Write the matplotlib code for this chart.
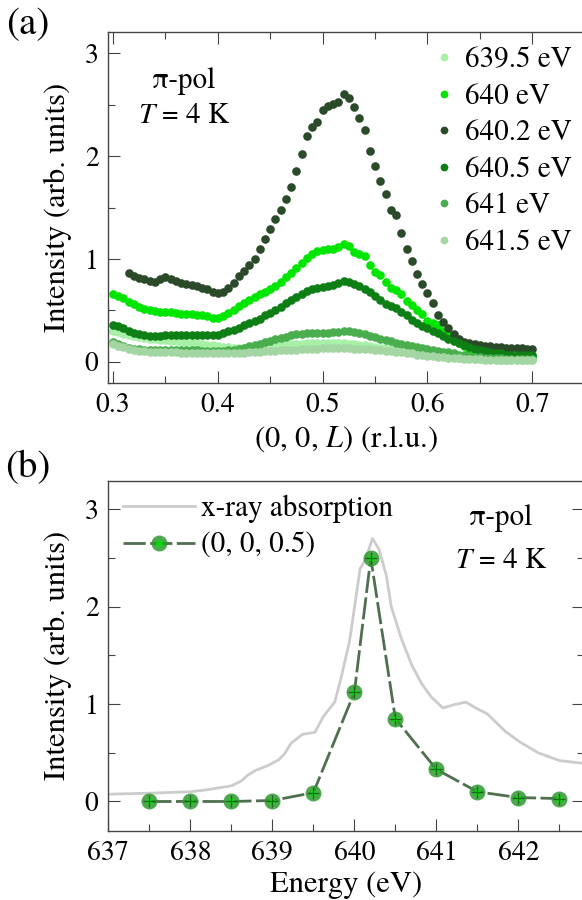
import matplotlib
matplotlib.use("Agg")
import matplotlib.pyplot as plt
from matplotlib.ticker import MultipleLocator

plt.rcParams.update({
    "font.family": ["TeX Gyre Termes", "STIXGeneral", "DejaVu Serif"],
    "mathtext.fontset": "stix",
    "axes.linewidth": 1.0,
    "axes.edgecolor": "#444444",
})

# ---- data, panel (a): L scans at several photon energies
L = [0.300, 0.305, 0.310, 0.315, 0.320, 0.325, 0.330, 0.335, 0.340, 0.345,
     0.350, 0.355, 0.360, 0.365, 0.370, 0.375, 0.380, 0.385, 0.390, 0.395,
     0.400, 0.405, 0.410, 0.415, 0.420, 0.425, 0.430, 0.435, 0.440, 0.445,
     0.450, 0.455, 0.460, 0.465, 0.470, 0.475, 0.480, 0.485, 0.490, 0.495,
     0.500, 0.505, 0.510, 0.515, 0.520, 0.525, 0.530, 0.535, 0.540, 0.545,
     0.550, 0.555, 0.560, 0.565, 0.570, 0.575, 0.580, 0.585, 0.590, 0.595,
     0.600, 0.605, 0.610, 0.615, 0.620, 0.625, 0.630, 0.635, 0.640, 0.645,
     0.650, 0.655, 0.660, 0.665, 0.670, 0.675, 0.680, 0.685, 0.690, 0.695,
     0.700]

I_6395 = [0.30, 0.29, 0.27, 0.26, 0.25, 0.24, 0.23, 0.22, 0.22, 0.21,
          0.21, 0.20, 0.20, 0.19, 0.19, 0.18, 0.18, 0.17, 0.16, 0.16,
          0.15, 0.14, 0.14, 0.13, 0.13, 0.13, 0.13, 0.13, 0.14, 0.14,
          0.15, 0.15, 0.16, 0.16, 0.17, 0.17, 0.17, 0.18, 0.18, 0.18,
          0.18, 0.18, 0.18, 0.18, 0.18, 0.17, 0.17, 0.16, 0.16, 0.15,
          0.14, 0.13, 0.13, 0.12, 0.11, 0.10, 0.10, 0.09, 0.08, 0.08,
          0.07, 0.07, 0.06, 0.06, 0.05, 0.05, 0.04, 0.04, 0.04, 0.03,
          0.03, 0.03, 0.03, 0.03, 0.02, 0.02, 0.02, 0.02, 0.02, 0.02,
          0.02]
I_640 = [0.66, 0.64, 0.62, 0.58, 0.56, 0.53, 0.51, 0.50, 0.49, 0.48,
         0.48, 0.48, 0.47, 0.46, 0.46, 0.46, 0.45, 0.45, 0.44, 0.43,
         0.43, 0.44, 0.47, 0.50, 0.54, 0.57, 0.60, 0.63, 0.66, 0.68,
         0.71, 0.74, 0.78, 0.82, 0.86, 0.91, 0.96, 1.01, 1.05, 1.08,
         1.09, 1.10, 1.10, 1.12, 1.15, 1.13, 1.07, 1.05, 1.03, 0.94,
         0.87, 0.84, 0.78, 0.72, 0.70, 0.66, 0.59, 0.55, 0.50, 0.46,
         0.40, 0.38, 0.36, 0.30, 0.26, 0.22, 0.18, 0.15, 0.12, 0.10,
         0.09, 0.08, 0.08, 0.07, 0.07, 0.07, 0.06, 0.06, 0.06, 0.06,
         0.06]
# 640.2 eV scan starts at L = 0.315
I_6402 = [0.865, 0.83, 0.81, 0.80, 0.79, 0.78, 0.80,
          0.82, 0.80, 0.79, 0.77, 0.76, 0.75, 0.74, 0.72, 0.71, 0.68,
          0.67, 0.68, 0.72, 0.77, 0.83, 0.88, 0.94, 1.00, 1.10, 1.19,
          1.29, 1.39, 1.48, 1.58, 1.70, 1.86, 2.02, 2.20, 2.28, 2.33,
          2.45, 2.49, 2.51, 2.53, 2.60, 2.57, 2.48, 2.37, 2.25, 2.05,
          1.90, 1.76, 1.63, 1.48, 1.43, 1.25, 1.10, 0.98, 0.85, 0.76,
          0.67, 0.57, 0.45, 0.39, 0.33, 0.27, 0.22, 0.19, 0.18, 0.17,
          0.16, 0.15, 0.15, 0.14, 0.14, 0.13, 0.13, 0.13, 0.13, 0.12,
          0.12]
I_6405 = [0.36, 0.35, 0.33, 0.30, 0.28, 0.27, 0.26, 0.25, 0.25, 0.25,
          0.26, 0.26, 0.26, 0.26, 0.26, 0.26, 0.26, 0.26, 0.26, 0.26,
          0.26, 0.28, 0.30, 0.31, 0.33, 0.36, 0.38, 0.40, 0.42, 0.45,
          0.47, 0.50, 0.53, 0.57, 0.60, 0.63, 0.66, 0.69, 0.71, 0.72,
          0.73, 0.74, 0.75, 0.77, 0.79, 0.78, 0.76, 0.74, 0.71, 0.68,
          0.64, 0.60, 0.56, 0.54, 0.52, 0.48, 0.45, 0.41, 0.38, 0.35,
          0.33, 0.30, 0.28, 0.25, 0.22, 0.20, 0.18, 0.16, 0.14, 0.12,
          0.11, 0.10, 0.09, 0.08, 0.08, 0.07, 0.07, 0.07, 0.07, 0.07,
          0.07]
I_641 = [0.19, 0.17, 0.15, 0.13, 0.12, 0.12, 0.11, 0.11, 0.11, 0.11,
         0.11, 0.11, 0.11, 0.11, 0.11, 0.11, 0.11, 0.10, 0.10, 0.10,
         0.10, 0.10, 0.11, 0.11, 0.12, 0.13, 0.15, 0.16, 0.17, 0.19,
         0.20, 0.22, 0.23, 0.24, 0.26, 0.27, 0.27, 0.28, 0.28, 0.28,
         0.28, 0.28, 0.29, 0.29, 0.30, 0.30, 0.29, 0.28, 0.27, 0.25,
         0.24, 0.22, 0.21, 0.20, 0.18, 0.17, 0.16, 0.15, 0.14, 0.13,
         0.12, 0.11, 0.10, 0.09, 0.09, 0.08, 0.07, 0.07, 0.06, 0.05,
         0.05, 0.04, 0.04, 0.04, 0.04, 0.03, 0.03, 0.03, 0.03, 0.03,
         0.03]
I_6415 = [0.17, 0.15, 0.14, 0.12, 0.11, 0.10, 0.10, 0.09, 0.09, 0.09,
          0.09, 0.09, 0.09, 0.08, 0.08, 0.08, 0.08, 0.08, 0.08, 0.08,
          0.08, 0.08, 0.08, 0.08, 0.08, 0.08, 0.09, 0.09, 0.09, 0.10,
          0.10, 0.10, 0.11, 0.11, 0.11, 0.11, 0.12, 0.12, 0.12, 0.12,
          0.13, 0.13, 0.13, 0.13, 0.13, 0.13, 0.12, 0.12, 0.12, 0.12,
          0.11, 0.11, 0.10, 0.10, 0.09, 0.09, 0.08, 0.08, 0.07, 0.07,
          0.06, 0.06, 0.05, 0.05, 0.04, 0.04, 0.04, 0.03, 0.03, 0.03,
          0.03, 0.02, 0.02, 0.02, 0.02, 0.02, 0.02, 0.02, 0.02, 0.02,
          0.02]

scan_labels = ["639.5 eV", "640 eV", "640.2 eV", "640.5 eV", "641 eV", "641.5 eV"]
scan_colors = ["#a8f0a8", "#00e600", "#2a4a2a", "#0d7f14", "#4aad4e", "#a3d6a3"]

# ---- data, panel (b): energy dependence
E_xas = [637.0, 637.5, 638.0, 638.2, 638.5, 638.62, 638.7, 638.8, 638.95, 639.08,
         639.15, 639.23, 639.37, 639.52, 639.62, 639.76, 639.83, 639.94, 640.01, 640.07,
         640.14, 640.22, 640.3, 640.39, 640.45, 640.57, 640.7, 640.82, 640.94, 641.08,
         641.2, 641.36, 641.48, 641.62, 641.84, 642.02, 642.24, 642.5, 642.8]
I_xas = [0.075, 0.085, 0.10, 0.12, 0.16, 0.21, 0.27, 0.32, 0.37, 0.43,
         0.49, 0.60, 0.69, 0.71, 0.87, 1.02, 1.24, 1.64, 2.04, 2.39,
         2.49, 2.70, 2.59, 2.32, 2.00, 1.68, 1.40, 1.21, 1.07, 0.96,
         0.99, 1.02, 0.96, 0.90, 0.72, 0.61, 0.50, 0.42, 0.39]

E_peak = [637.5, 638.0, 638.5, 639.0, 639.5, 640.0, 640.2, 640.5, 641.0, 641.5, 642.0, 642.5]
I_peak = [0.0, 0.0, 0.0, 0.01, 0.09, 1.12, 2.50, 0.85, 0.33, 0.10, 0.04, 0.03]

# ---- figure
fig = plt.figure(figsize=(5.82, 9.0), dpi=100)
W, H = 582.0, 900.0
ax1 = fig.add_axes([108.3 / W, 1 - 383.3 / H, (584 - 108.3) / W, 351.0 / H])
ax2 = fig.add_axes([108.3 / W, 1 - 830.7 / H, (584 - 108.3) / W, 349.7 / H])


def style_axes(ax, top, right):
    ax.tick_params(which="both", direction="in", top=top, right=right,
                   color="#444444", labelsize=20)
    ax.tick_params(which="major", length=8.6, width=0.8, pad=7)
    ax.tick_params(which="minor", length=5, width=0.8)


# panel (a)
L02 = L[3:]
series = [I_6395, I_640, I_6402, I_6405, I_641, I_6415]
for i, (vals, lab, col) in enumerate(zip(series, scan_labels, scan_colors)):
    xs = L02 if lab == "640.2 eV" else L
    ax1.plot(xs, vals, "o", ms=6.2, mec="none", color=col, label=lab, zorder=2 + i)

ax1.set_xlim(0.2955, 0.7493)
ax1.set_ylim(-0.21, 3.205)
ax1.xaxis.set_minor_locator(MultipleLocator(0.05))
ax1.yaxis.set_major_locator(MultipleLocator(1))
ax1.yaxis.set_minor_locator(MultipleLocator(0.5))
ax1.set_xticks([0.3, 0.4, 0.5, 0.6, 0.7])
ax1.set_xticklabels(["0.3", "0.4", "0.5", "0.6", "0.7"])
style_axes(ax1, top=True, right=False)
ax1.set_xlabel("(0, 0, $L$) (r.l.u.)", fontsize=22, labelpad=4)
ax1.set_ylabel("Intensity (arb. units)", fontsize=22, labelpad=9)
ax1.text(0.16, 0.86, "π-pol", transform=ax1.transAxes, fontsize=21,
         ha="center", va="center")
ax1.text(0.16, 0.76, "$T$ = 4 K", transform=ax1.transAxes, fontsize=21,
         ha="center", va="center")
ax1.legend(loc="upper left", bbox_to_anchor=(0.674, 0.96), frameon=False,
           fontsize=21, handlelength=1.0, handletextpad=0.25, labelspacing=0.3,
           borderpad=0, borderaxespad=0, markerscale=0.9)

# panel (b)
ax2.plot(E_xas, I_xas, "-", color="#cccccc", lw=2, zorder=2, label="x-ray absorption")
ln, = ax2.plot(E_peak, I_peak, "-", color="#4f6f4f", lw=2, dashes=(8, 1.6), zorder=3)
big, = ax2.plot(E_peak, I_peak, "o", ms=11.5, mec="none", color="#2e9a2e",
                alpha=0.85, zorder=4)
dot, = ax2.plot(E_peak, I_peak, "o", ms=4.5, mec="none", color="#00e000", zorder=5)
plus, = ax2.plot(E_peak, I_peak, "+", ms=9, mew=0.9, color="#1d3d1d", alpha=0.7, zorder=6)

ax2.set_xlim(637, 642.8)
ax2.set_ylim(-0.3, 3.29)
ax2.xaxis.set_major_locator(MultipleLocator(1))
ax2.xaxis.set_minor_locator(MultipleLocator(0.5))
ax2.yaxis.set_major_locator(MultipleLocator(1))
ax2.yaxis.set_minor_locator(MultipleLocator(0.5))
style_axes(ax2, top=False, right=True)
ax2.set_xlabel("Energy (eV)", fontsize=22, labelpad=4)
ax2.set_ylabel("Intensity (arb. units)", fontsize=22, labelpad=9)
ax2.text(0.825, 0.895, "π-pol", transform=ax2.transAxes, fontsize=21,
         ha="center", va="center")
ax2.text(0.825, 0.77, "$T$ = 4 K", transform=ax2.transAxes, fontsize=21,
         ha="center", va="center")
handles = [ax2.lines[0], (ln, big, dot)]
ax2.legend(handles, ["x-ray absorption", "(0, 0, 0.5)"], loc="upper left",
           bbox_to_anchor=(0.03, 0.96), frameon=False, fontsize=21,
           handlelength=2.5, handletextpad=0.2, labelspacing=0.3,
           borderpad=0, borderaxespad=0)

fig.text(6 / W, 1 - 25 / H, "(a)", fontsize=28, ha="left", va="center")
fig.text(5 / W, 1 - 468 / H, "(b)", fontsize=28, ha="left", va="center")

fig.savefig("out.png", dpi=100)
